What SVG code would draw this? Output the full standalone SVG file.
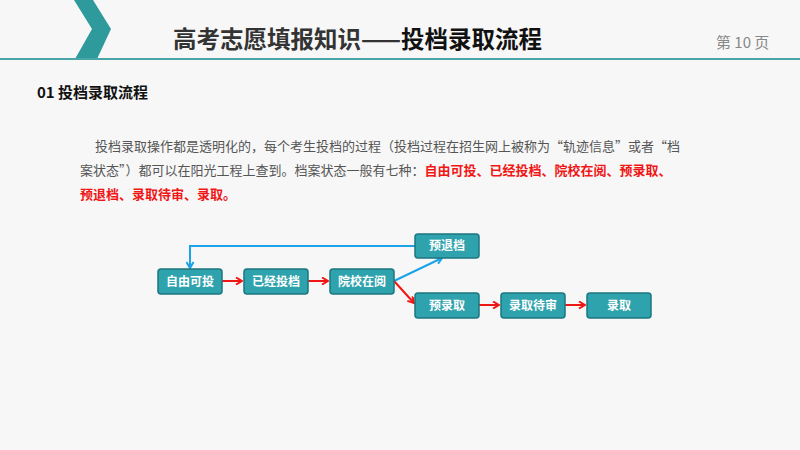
<svg xmlns="http://www.w3.org/2000/svg" width="800" height="450" viewBox="0 0 800 450">
<style>
text{font-family:"Noto Sans CJK SC","Liberation Sans",sans-serif}
.n rect{fill:#2fa3ad;stroke:#1d7780;stroke-width:1.5}
.n text{fill:#fff;font-size:12px;font-weight:bold;text-anchor:middle}
.r{stroke:#f01616;stroke-width:2;fill:none;marker-end:url(#ar)}
.b{stroke:#1aa3e8;stroke-width:2;fill:none;marker-end:url(#ab)}
.p{font-size:13px;fill:#555}
</style>
<defs>
<marker id="ar" markerWidth="8" markerHeight="8" refX="7" refY="4" orient="auto" markerUnits="userSpaceOnUse"><path d="M1,0.5 L7,4 L1,7.5" fill="none" stroke="#f01616" stroke-width="2"/></marker>
<marker id="ab" markerWidth="8" markerHeight="8" refX="7" refY="4" orient="auto" markerUnits="userSpaceOnUse"><path d="M1,0.5 L7,4 L1,7.5" fill="none" stroke="#1aa3e8" stroke-width="2"/></marker>
</defs>
<rect width="800" height="450" fill="#f7f7f7"/>
<polygon points="74,0 93,0 111,29 97,59 75,59 92,29" fill="#2f9a9c"/>
<rect x="0" y="58" width="800" height="2" fill="#4aa6a6"/>
<text x="173" y="48" font-size="23.5" font-weight="bold" fill="#333">高考志愿填报知识——<tspan fill="#111">投档录取流程</tspan></text>
<text x="716" y="48" font-size="15" fill="#888">第 10 页</text>
<text x="37" y="98" font-size="15" font-weight="bold" fill="#111">01 投档录取流程</text>
<text x="95" y="151" class="p">投档录取操作都是透明化的，每个考生投档的过程（投档过程在招生网上被称为“轨迹信息”或者“档</text>
<text x="80" y="175" class="p">案状态”）都可以在阳光工程上查到。档案状态一般有七种：<tspan fill="#f01616" font-weight="bold">自由可投、已经投档、院校在阅、预录取、</tspan></text>
<text x="80" y="199" class="p" font-weight="bold" style="fill:#f01616">预退档、录取待审、录取。</text>
<g id="connectors">
<path class="b" d="M415,246 H190 V268"/>
<path class="b" d="M394,281 L442,258"/>
<path class="r" d="M222,281 H242"/>
<path class="r" d="M308,281 H328"/>
<path class="r" d="M394,281 L414,303"/>
<path class="r" d="M479,305 H499"/>
<path class="r" d="M565,305 H585"/>
</g>
<g id="n1" class="n"><rect x="158" y="269" width="64" height="25" rx="3"/><text x="190" y="286">自由可投</text></g>
<g id="n2" class="n"><rect x="244" y="269" width="64" height="25" rx="3"/><text x="276" y="286">已经投档</text></g>
<g id="n3" class="n"><rect x="330" y="269" width="64" height="25" rx="3"/><text x="362" y="286">院校在阅</text></g>
<g id="n4" class="n"><rect x="415" y="234" width="64" height="24" rx="3"/><text x="447" y="250">预退档</text></g>
<g id="n5" class="n"><rect x="415" y="293" width="64" height="25" rx="3"/><text x="447" y="310">预录取</text></g>
<g id="n6" class="n"><rect x="501" y="293" width="64" height="25" rx="3"/><text x="533" y="310">录取待审</text></g>
<g id="n7" class="n"><rect x="587" y="293" width="64" height="25" rx="3"/><text x="619" y="310">录取</text></g>
</svg>
